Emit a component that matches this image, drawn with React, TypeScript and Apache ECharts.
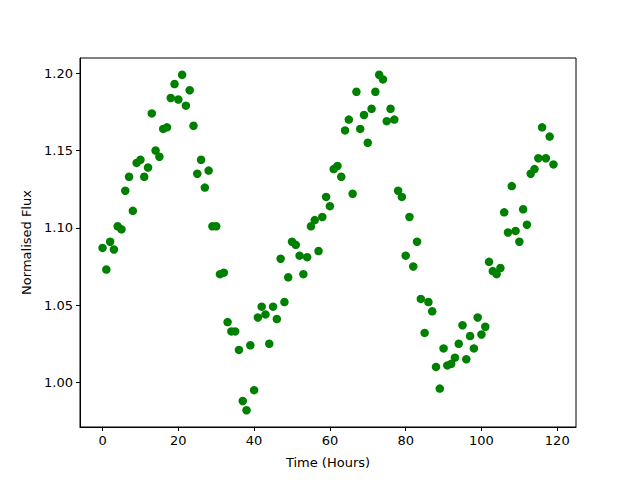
import React, { useEffect, useRef } from "react";
import * as echarts from "echarts";

const hours: number[] = Array.from({ length: 120 }, (_, i) => i);
const flux: number[] = [
  1.087, 1.073, 1.091, 1.086, 1.101, 1.099, 1.124, 1.133, 1.111, 1.142,
  1.144, 1.133, 1.139, 1.174, 1.150, 1.146, 1.164, 1.165, 1.184, 1.193,
  1.183, 1.199, 1.179, 1.189, 1.166, 1.135, 1.144, 1.126, 1.137, 1.101,
  1.101, 1.070, 1.071, 1.039, 1.033, 1.033, 1.021, 0.988, 0.982, 1.024,
  0.995, 1.042, 1.049, 1.044, 1.025, 1.049, 1.041, 1.080, 1.052, 1.068,
  1.091, 1.089, 1.082, 1.070, 1.081, 1.101, 1.105, 1.085, 1.107, 1.120,
  1.114, 1.138, 1.140, 1.133, 1.163, 1.170, 1.122, 1.188, 1.164, 1.173,
  1.155, 1.177, 1.188, 1.199, 1.196, 1.169, 1.177, 1.170, 1.124, 1.120,
  1.082, 1.107, 1.075, 1.091, 1.054, 1.032, 1.052, 1.046, 1.010, 0.996,
  1.022, 1.011, 1.012, 1.016, 1.025, 1.037, 1.015, 1.030, 1.022, 1.042,
  1.031, 1.036, 1.078, 1.072, 1.070, 1.074, 1.110, 1.097, 1.127, 1.098,
  1.091, 1.112, 1.102, 1.135, 1.138, 1.145, 1.165, 1.145, 1.159, 1.141,
];
const xTicks: number[] = [0, 20, 40, 60, 80, 100, 120];
const yTicks: number[] = [1.0, 1.05, 1.1, 1.15, 1.2];

const FONT = "DejaVu Sans";

export default function App() {
  const ref = useRef<HTMLDivElement>(null);
  useEffect(() => {
    if (!ref.current) return;
    const chart = echarts.init(ref.current, undefined, { renderer: "svg" });
    const xs = Math.min(...hours), xe = Math.max(...hours);
    const ys = Math.min(...flux), ye = Math.max(...flux);
    const xm = (xe - xs) * 0.05, ym = (ye - ys) * 0.05;
    chart.setOption({
      animation: false,
      backgroundColor: "#ffffff",
      grid: {
        left: 80, right: 64, top: 58, bottom: 53,
        show: true, borderColor: "#000", borderWidth: 1, backgroundColor: "transparent",
      },
      xAxis: {
        type: "value",
        min: xs - xm, max: xe + xm,
        name: "Time (Hours)",
        nameLocation: "middle",
        nameGap: 29,
        nameTextStyle: { fontFamily: FONT, fontSize: 13, color: "#000" },
        axisLine: { show: true, onZero: false, lineStyle: { color: "#000", width: 1 } },
        axisTick: { show: true, inside: false, length: 4, customValues: xTicks, lineStyle: { color: "#000" } },
        axisLabel: { customValues: xTicks, margin: 7, fontFamily: FONT, fontSize: 13, color: "#000" },
        splitLine: { show: false },
      },
      yAxis: {
        type: "value",
        min: ys - ym, max: ye + ym,
        name: "Normalised Flux",
        nameLocation: "middle",
        nameGap: 47,
        nameTextStyle: { fontFamily: FONT, fontSize: 13, color: "#000" },
        axisLine: { show: true, onZero: false, lineStyle: { color: "#000", width: 1 } },
        axisTick: { show: true, inside: false, length: 4, customValues: yTicks, lineStyle: { color: "#000" } },
        axisLabel: {
          customValues: yTicks, margin: 7, fontFamily: FONT, fontSize: 13, color: "#000",
          formatter: (v: number) => v.toFixed(2),
        },
        splitLine: { show: false },
      },
      series: [
        {
          type: "scatter",
          data: hours.map((h, i) => [h, flux[i]]),
          symbol: "circle",
          symbolSize: 8.5,
          itemStyle: { color: "#008000", opacity: 1 },
        },
      ],
    });
    return () => chart.dispose();
  }, []);
  return (
    <div
      ref={ref}
      style={{ position: "fixed", left: 0, top: 0, width: 640, height: 480, background: "#fff" }}
    />
  );
}
